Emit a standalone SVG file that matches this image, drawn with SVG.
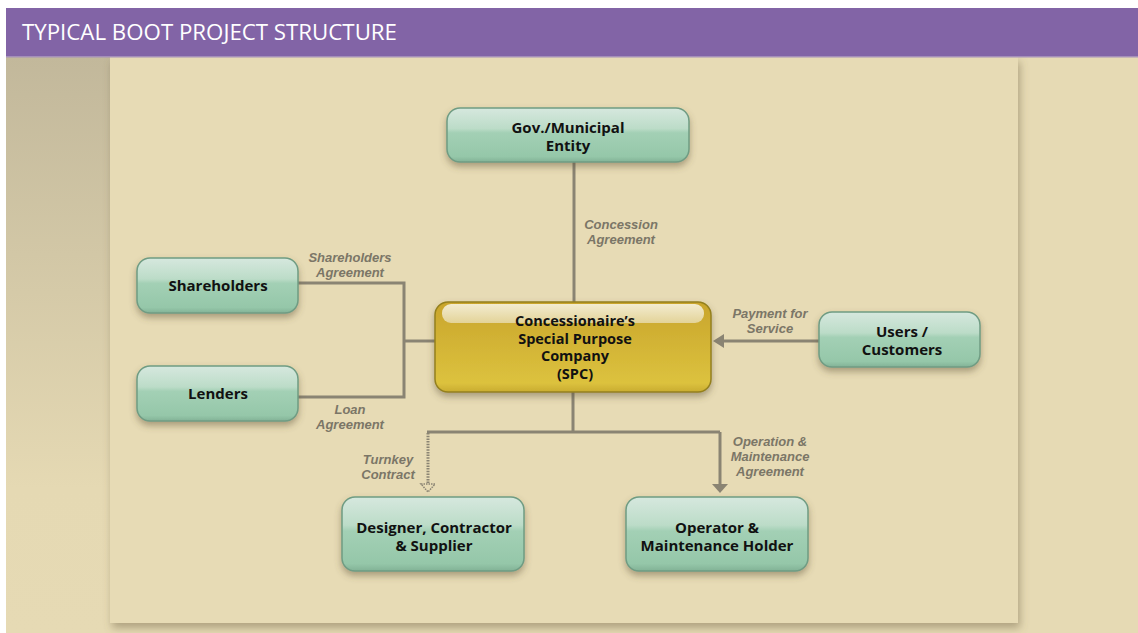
<svg xmlns="http://www.w3.org/2000/svg" width="1138" height="633" viewBox="0 0 1138 633">
<defs>
<linearGradient id="leftbg" x1="0" y1="0" x2="0" y2="1">
<stop offset="0" stop-color="#c2b89b"/>
<stop offset="0.75" stop-color="#e5d9b3"/>
<stop offset="1" stop-color="#e6dab4"/>
</linearGradient>
<linearGradient id="green" x1="0" y1="0" x2="0" y2="1">
<stop offset="0" stop-color="#d6e8de"/>
<stop offset="0.38" stop-color="#bcdcc8"/>
<stop offset="0.46" stop-color="#a3d0b5"/>
<stop offset="0.9" stop-color="#95c7a9"/>
<stop offset="1" stop-color="#82b296"/>
</linearGradient>
<linearGradient id="gold" x1="0" y1="0" x2="0" y2="1">
<stop offset="0" stop-color="#c9a52c"/>
<stop offset="0.9" stop-color="#dcc23e"/>
<stop offset="1" stop-color="#c9ac30"/>
</linearGradient>
<linearGradient id="gloss" x1="0" y1="0" x2="0" y2="1">
<stop offset="0" stop-color="#f3ecd0"/>
<stop offset="1" stop-color="#e3d398"/>
</linearGradient>
<filter id="shadow" x="-20%" y="-20%" width="140%" height="160%">
<feDropShadow dx="0" dy="4" stdDeviation="3.5" flood-color="#5a4f30" flood-opacity="0.45"/>
</filter>
<filter id="panelshadow" x="-5%" y="-5%" width="110%" height="110%">
<feDropShadow dx="2" dy="5" stdDeviation="4" flood-color="#6a5f40" flood-opacity="0.45"/>
</filter>
<style>
.node rect.box{fill:url(#green);stroke:#6f9c83;stroke-width:1.5;filter:url(#shadow)}
.node rect.spc{fill:url(#gold);stroke:#94801f;stroke-width:1.5;filter:url(#shadow)}
.nt{font-family:"Open Sans","Liberation Sans",sans-serif;font-weight:700;font-size:15px;fill:#111;text-anchor:middle}
.st{font-size:14.5px}
.lbl{font-family:"Liberation Sans",Arial,sans-serif;font-weight:700;font-style:italic;font-size:13px;fill:#7b7667;text-anchor:middle}
.con{fill:none;stroke:#8a8473;stroke-width:3}
.title{font-family:"Open Sans","Liberation Sans",sans-serif;font-size:21px;fill:#ffffff}
</style>
</defs>
<rect x="0" y="0" width="1138" height="633" fill="#ffffff"/>
<rect x="6" y="57" width="1132" height="576" fill="#e6dab4"/>
<rect x="6" y="57" width="104" height="576" fill="url(#leftbg)"/>
<rect x="110" y="57" width="908" height="566" fill="#e7dbb5" filter="url(#panelshadow)"/>
<rect x="6" y="8" width="1132" height="49" fill="#8264a6"/>
<rect x="6" y="56" width="1132" height="1.5" fill="#a58fba"/>
<text class="title" x="22" y="40" textLength="375" lengthAdjust="spacingAndGlyphs">TYPICAL BOOT PROJECT STRUCTURE</text>

<g id="connectors">
<path class="con" d="M574 162 V302"/>
<path class="con" d="M298 283 H404 V397 H298"/>
<path class="con" d="M404 341 H435"/>
<path class="con" d="M819 341 H722"/>
<polygon points="713,341 724,334 724,348" fill="#8a8473"/>
<path class="con" d="M573 392 V432 M427 432 H720"/>
<path class="con" d="M720 432 V484"/>
<polygon points="712,484 728,484 720,493" fill="#8a8473"/>
<path class="con" d="M428 433 V484" stroke-dasharray="1.5 1.2"/>
<polygon points="421,484 435,484 428,492" fill="none" stroke="#8a8473" stroke-width="1.5" stroke-dasharray="1.5 1"/>
</g>

<g id="labels">
<text class="lbl" x="621" y="229">Concession</text>
<text class="lbl" x="621" y="244">Agreement</text>
<text class="lbl" x="350" y="262">Shareholders</text>
<text class="lbl" x="350" y="277">Agreement</text>
<text class="lbl" x="350" y="414">Loan</text>
<text class="lbl" x="350" y="429">Agreement</text>
<text class="lbl" x="770" y="318">Payment for</text>
<text class="lbl" x="770" y="333">Service</text>
<text class="lbl" x="388" y="464">Turnkey</text>
<text class="lbl" x="388" y="479">Contract</text>
<text class="lbl" x="770" y="446">Operation &amp;</text>
<text class="lbl" x="770" y="461">Maintenance</text>
<text class="lbl" x="770" y="476">Agreement</text>
</g>

<g id="gov" class="node">
<rect class="box" x="447" y="108" width="242" height="54" rx="13"/>
<text class="nt" x="568" y="133">Gov./Municipal</text>
<text class="nt" x="568" y="151">Entity</text>
</g>
<g id="shareholders" class="node">
<rect class="box" x="137" y="258" width="161" height="55" rx="13"/>
<text class="nt" x="218" y="291">Shareholders</text>
</g>
<g id="lenders" class="node">
<rect class="box" x="137" y="366" width="161" height="55" rx="13"/>
<text class="nt" x="218" y="399">Lenders</text>
</g>
<g id="spc" class="node">
<rect class="spc" x="435" y="302" width="276" height="90" rx="13"/>
<rect x="442" y="304" width="262" height="19" rx="9" fill="url(#gloss)"/>
<text class="nt st" x="575" y="326">Concessionaire’s</text>
<text class="nt st" x="575" y="343.5">Special Purpose</text>
<text class="nt st" x="575" y="361">Company</text>
<text class="nt st" x="575" y="378.5">(SPC)</text>
</g>
<g id="users" class="node">
<rect class="box" x="819" y="312" width="161" height="55" rx="13"/>
<text class="nt" x="902" y="337">Users /</text>
<text class="nt" x="902" y="355">Customers</text>
</g>
<g id="designer" class="node">
<rect class="box" x="342" y="497" width="182" height="74" rx="13"/>
<text class="nt" x="434" y="533">Designer, Contractor</text>
<text class="nt" x="434" y="551">&amp; Supplier</text>
</g>
<g id="operator" class="node">
<rect class="box" x="626" y="497" width="182" height="74" rx="13"/>
<text class="nt" x="717" y="533">Operator &amp;</text>
<text class="nt" x="717" y="551">Maintenance Holder</text>
</g>
</svg>
